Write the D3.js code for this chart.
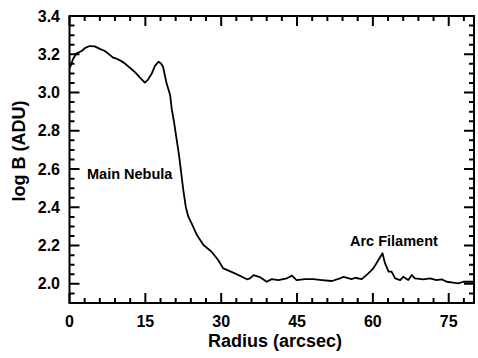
<!DOCTYPE html>
<meta charset="utf-8">
<style>
body { margin: 0; background: #fff; }
svg { font-family: "Liberation Sans", Arial, sans-serif; font-weight: bold; }
.frame { fill: none; stroke: #000; stroke-width: 2; }
.ticks { fill: none; stroke: #000; stroke-width: 2; }
.ticklabel { font-size: 16px; fill: #000; }
.title { font-size: 18px; fill: #000; }
.note { font-size: 14.5px; fill: #000; }
.profile { fill: none; stroke: #000; stroke-width: 1.8; stroke-linejoin: round; }
</style>
<svg width="478" height="358"></svg>
<script src="https://d3js.org/d3.v7.min.js"></script>
<script>

// radius (arcsec) and log brightness
var radius = [0.1, 0.7, 1.4, 2.4, 3.1, 4.0, 5.0, 6.0, 7.0, 7.9, 8.6, 9.2, 10.0, 10.8, 12.0, 13.0,
  13.9, 14.9, 15.5, 16.3, 16.9, 17.6, 18.1, 18.5, 19.2, 19.9, 20.2, 20.7, 21.7, 22.5, 23.0, 23.5,
  24.2, 25.2, 26.5, 28.1, 29.4, 30.4, 31.1, 32.7, 34.1, 35.1, 35.7, 36.4, 37.5, 38.0, 39.0, 40.0,
  41.3, 43.0, 44.0, 44.9, 46.6, 48.2, 49.9, 51.9, 53.5, 54.2, 55.8, 56.5, 57.8, 59.1, 60.1, 61.1,
  61.9, 62.4, 63.1, 63.7, 64.4, 65.4, 66.0, 67.0, 67.7, 68.3, 70.0, 71.3, 72.6, 73.6, 74.6, 75.9,
  76.9, 77.9, 79.2, 80.0];
var logB = [3.13, 3.175, 3.205, 3.217, 3.233, 3.243, 3.241, 3.228, 3.217, 3.198, 3.183, 3.178, 3.168, 3.155, 3.128, 3.105,
  3.079, 3.052, 3.066, 3.101, 3.139, 3.161, 3.152, 3.135, 3.048, 2.987, 2.918, 2.841, 2.665, 2.491, 2.402, 2.351,
  2.313, 2.255, 2.203, 2.168, 2.125, 2.081, 2.073, 2.055, 2.037, 2.024, 2.029, 2.046, 2.037, 2.029, 2.011, 2.025,
  2.020, 2.029, 2.043, 2.020, 2.025, 2.025, 2.020, 2.015, 2.029, 2.037, 2.025, 2.032, 2.025, 2.055, 2.081, 2.125,
  2.160, 2.108, 2.064, 2.064, 2.029, 2.020, 2.037, 2.020, 2.046, 2.029, 2.024, 2.029, 2.020, 2.024, 2.011, 2.006,
  2.003, 2.011, 2.011, 2.011];

var xTicks = [0, 15, 30, 45, 60, 75];
var yTicks = [2.0, 2.2, 2.4, 2.6, 2.8, 3.0, 3.2, 3.4];
var xMinor = [3, 6, 9, 12, 18, 21, 24, 27, 33, 36, 39, 42, 48, 51, 54, 57, 63, 66, 69, 72, 78];
var yMinor = [1.95, 2.05, 2.1, 2.15, 2.25, 2.3, 2.35, 2.45, 2.5, 2.55, 2.65, 2.7, 2.75,
  2.85, 2.9, 2.95, 3.05, 3.1, 3.15, 3.25, 3.3, 3.35];

var plotL = 69.5, plotR = 474, plotT = 16, plotB = 303;

var x = d3.scaleLinear().domain([0, 80]).range([plotL, plotR]);
var y = d3.scaleLinear().domain([1.9, 3.4]).range([plotB, plotT]);

var svg = d3.select("svg");

svg.append("rect").attr("class", "frame")
    .attr("x", plotL).attr("y", plotT)
    .attr("width", plotR - plotL).attr("height", plotB - plotT);

// inward ticks on all four sides, one path
var p = d3.path();
function addX(vals, len) {
  vals.forEach(function (d) {
    p.moveTo(x(d), plotB); p.lineTo(x(d), plotB - len);
    p.moveTo(x(d), plotT); p.lineTo(x(d), plotT + len);
  });
}
function addY(vals, len) {
  vals.forEach(function (d) {
    p.moveTo(plotL, y(d)); p.lineTo(plotL + len, y(d));
    p.moveTo(plotR, y(d)); p.lineTo(plotR - len, y(d));
  });
}
addX(xTicks, 10);
addX(xMinor, 5);
addY(yTicks, 10);
addY(yMinor, 5);
svg.append("path").attr("class", "ticks").attr("d", p.toString());

// tick labels
svg.selectAll(".xl").data(xTicks).enter().append("text")
    .attr("class", "ticklabel")
    .attr("x", function (d) { return x(d); })
    .attr("y", 327)
    .attr("text-anchor", "middle")
    .text(function (d) { return d; });

svg.selectAll(".yl").data(yTicks).enter().append("text")
    .attr("class", "ticklabel")
    .attr("x", 60)
    .attr("y", function (d) { return y(d); })
    .attr("dy", "0.35em")
    .attr("text-anchor", "end")
    .text(function (d) { return d.toFixed(1); });

// axis titles
svg.append("text").attr("class", "title")
    .attr("x", 275).attr("y", 347)
    .attr("text-anchor", "middle")
    .text("Radius (arcsec)");

svg.append("text").attr("class", "title")
    .attr("transform", "translate(25,151) rotate(-90)")
    .attr("text-anchor", "middle")
    .text("log B (ADU)");

// profile
var line = d3.line()
    .x(function (d, i) { return x(radius[i]); })
    .y(function (d) { return y(d); });

svg.append("path").attr("class", "profile").attr("d", line(logB));

// annotations
svg.append("text").attr("class", "note").attr("x", 87).attr("y", 179).text("Main Nebula");
svg.append("text").attr("class", "note").attr("x", 350).attr("y", 246).text("Arc Filament");

</script>
